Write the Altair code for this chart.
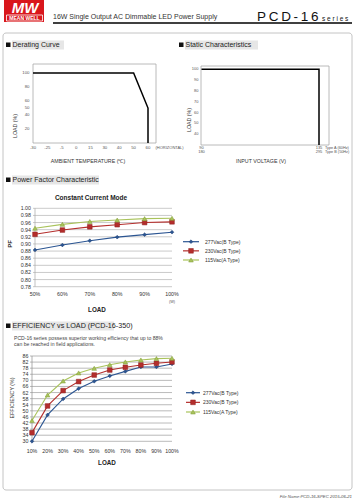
import altair as alt
import pandas as pd

FONT = "Liberation Sans"

# ---------------- data ----------------
derating_ticks = ["-30", "-25", "-5", "0", "15", "30", "40", "50", "60"]
derating_temp = ["-30", "50", "60", "60"]
derating_load = [100, 100, 50, 0]
derating_yticks = [100, 80, 60, 50, 40, 20]

static_volt_a = [90, 135]
static_volt_b = [180, 295]
static_curve_v = [90, 135, 135]
static_curve_load = [100, 100, 30]
static_yticks = [100, 90, 80, 70, 60, 50, 40]

series_names = ["277Vac(B Type)", "230Vac(B Type)", "115Vac(A Type)"]
series_colors = ["#2B5592", "#B42E2C", "#A9C35B"]
series_stroke = ["#1E3F73", "#8E1E1E", "#7F9A36"]
series_shapes = ["diamond", "square", "triangle-up"]
series_sizes = [14, 22, 22]

pf_load = [50, 60, 70, 80, 90, 100]
pf_277 = [0.883, 0.897, 0.909, 0.919, 0.926, 0.933]
pf_230 = [0.927, 0.939, 0.948, 0.954, 0.960, 0.962]
pf_115 = [0.944, 0.955, 0.963, 0.967, 0.971, 0.972]
pf_yticks = [1.00, 0.98, 0.96, 0.94, 0.92, 0.90, 0.88, 0.86, 0.84, 0.82, 0.80, 0.78]

eff_load = [10, 20, 30, 40, 50, 60, 70, 80, 90, 100]
eff_277 = [30.0, 47.3, 57.8, 64.6, 69.4, 72.9, 75.9, 78.8, 78.8, 80.8]
eff_230 = [35.7, 53.2, 63.3, 69.2, 73.5, 76.8, 78.6, 80.1, 81.2, 82.1]
eff_115 = [43.6, 60.4, 69.6, 74.9, 77.9, 80.3, 82.1, 83.4, 84.3, 84.5]
eff_yticks = [86, 82, 78, 74, 70, 66, 62, 58, 54, 50, 46, 42, 38, 34, 30]

one = pd.DataFrame({"k": [0]})
L = []


def text(s, x, y, size=6, color="#333333", align="left", baseline="middle",
         weight="normal", style="normal", angle=0):
    kw = dict(text=s, x=x, y=y, fontSize=size, color=color, align=align,
              baseline=baseline, fontWeight=weight, fontStyle=style, font=FONT)
    if angle:
        kw["angle"] = angle
    return alt.Chart(one).mark_text(**kw)


def rect(x, y, x2, y2, fill="transparent", stroke="transparent", sw=1.0, radius=0):
    kw = dict(fill=fill, stroke=stroke, strokeWidth=sw)
    if radius:
        kw["cornerRadius"] = radius
    return alt.Chart(one).mark_rect(**kw).encode(
        x=alt.value(x), x2=alt.value(x2), y=alt.value(y), y2=alt.value(y2))


def hrule(x, x2, y, color="black", sw=1.0):
    return alt.Chart(one).mark_rule(color=color, strokeWidth=sw).encode(
        x=alt.value(x), x2=alt.value(x2), y=alt.value(y))


def section(title, sx, ty, bgw, size=7):
    return [
        rect(sx + 6, ty - 4.5, sx + 6 + bgw, ty + 4.5, fill="#e6e6e6"),
        rect(sx, ty - 2.5, sx + 4.5, ty + 2, fill="#111111"),
        text(title, sx + 6.5, ty, size=size, color="#222222"),
    ]


# ---------------- header ----------------
L.append(rect(4, 0, 44, 22, fill="#D9161C"))
L.append(text("MW", 25, 12.6, size=15, color="white", align="center",
              baseline="alphabetic", weight="bold", style="italic"))
L.append(rect(6.5, 15, 42.5, 21, stroke="white", sw=0.8))
L.append(text("MEAN WELL", 24.5, 18.3, size=5.0, color="white", align="center", weight="bold"))
L.append(text("16W Single Output AC Dimmable LED Power Supply", 53, 19, size=7,
              color="#333333", baseline="alphabetic"))
L.append(text("P\u2009C\u2009D\u2009-\u20091\u20096", 257, 21.3, size=13.5, color="#111111",
              baseline="alphabetic"))
L.append(text("s e r i e s", 322, 21.3, size=6.5, color="#111111", baseline="alphabetic"))
L.append(hrule(53, 352, 23, sw=1.6))

# outer box and footer
L.append(rect(3, 33, 352, 490, stroke="#c4c4c4", sw=1.0, radius=3))
L.append(text("File Name:PCD-16-SPEC   2015-06-21", 352, 497, size=4.3, color="#555555",
              align="right", style="italic"))

# ---------------- derating curve ----------------
L += section("Derating Curve", 6, 45, 52)
der_x = alt.Scale(type="point", domain=derating_ticks, range=[33, 148], padding=0)
der_y = alt.Scale(domain=[0, 113], range=[143, 64], nice=False, zero=False)
L.append(rect(33, 64, 156, 143, stroke="#a8a8a8", sw=0.8))
der_df = pd.DataFrame({"t": derating_temp, "load": derating_load, "i": list(range(len(derating_temp)))})
L.append(alt.Chart(der_df).mark_line(color="black", strokeWidth=1.5).encode(
    x=alt.X("t:N", scale=der_x, axis=None),
    y=alt.Y("load:Q", scale=der_y, axis=None),
    order=alt.Order("i:Q")))
L.append(alt.Chart(pd.DataFrame({"t": derating_ticks})).mark_text(
    y=147.5, fontSize=4.3, color="#555555", font=FONT, baseline="middle").encode(
    x=alt.X("t:N", scale=der_x, axis=None), text="t:N"))
L.append(alt.Chart(pd.DataFrame({"v": derating_yticks})).mark_text(
    x=29.5, fontSize=4.3, color="#555555", font=FONT, align="right", baseline="middle").encode(
    y=alt.Y("v:Q", scale=der_y, axis=None), text="v:Q"))
L.append(text("(HORIZONTAL)", 155.5, 147.5, size=4.0, color="#555555"))
L.append(text("AMBIENT TEMPERATURE (\u2103)", 88, 161, size=5.3, color="#333333", align="center"))
L.append(text("LOAD (%)", 15, 126, size=5.3, color="#333333", align="center", angle=270))

# ---------------- static characteristics ----------------
L += section("Static Characteristics", 179, 45, 73)
st_xa = alt.Scale(domain=[90, 135], range=[201.5, 319], nice=False, zero=False)
st_xb = alt.Scale(domain=[180, 295], range=[201.5, 319], nice=False, zero=False)
st_y = alt.Scale(domain=[30, 100], range=[145, 69.3], nice=False, zero=False)
L.append(rect(201, 66, 329, 145, stroke="#a8a8a8", sw=0.8))
st_df = pd.DataFrame({"v": static_curve_v, "load": static_curve_load, "i": list(range(len(static_curve_v)))})
L.append(alt.Chart(st_df).mark_line(color="black", strokeWidth=1.5).encode(
    x=alt.X("v:Q", scale=st_xa, axis=None),
    y=alt.Y("load:Q", scale=st_y, axis=None),
    order=alt.Order("i:Q")))
L.append(alt.Chart(pd.DataFrame({"v": static_volt_a})).mark_text(
    y=147.7, fontSize=4.0, color="#555555", font=FONT, baseline="middle").encode(
    x=alt.X("v:Q", scale=st_xa, axis=None), text="v:Q"))
L.append(alt.Chart(pd.DataFrame({"v": static_volt_b})).mark_text(
    y=151.6, fontSize=4.0, color="#555555", font=FONT, baseline="middle").encode(
    x=alt.X("v:Q", scale=st_xb, axis=None), text="v:Q"))
L.append(alt.Chart(pd.DataFrame({"v": static_yticks})).mark_text(
    x=198.5, fontSize=4.0, color="#555555", font=FONT, align="right", baseline="middle").encode(
    y=alt.Y("v:Q", scale=st_y, axis=None), text="v:Q"))
L.append(text("Type A (60Hz)", 325, 147.7, size=3.8, color="#555555"))
L.append(text("Type B (50Hz)", 325, 151.6, size=3.8, color="#555555"))
L.append(text("INPUT VOLTAGE (V)", 261, 161, size=5.3, color="#333333", align="center"))
L.append(text("LOAD (%)", 189, 120, size=5.3, color="#333333", align="center", angle=270))


# ---------------- shared helpers for the line charts ----------------
def line_chart(loads, values_list, xs, ys, x_left, x_right, y_ticks, tick_fmt,
               label_x, xlabel_y, grid_color, legend_rows, leg_x0, leg_x1, leg_tx):
    out = []
    grid = pd.DataFrame({"v": y_ticks})
    out.append(alt.Chart(grid).mark_rule(color=grid_color, strokeWidth=0.6).encode(
        y=alt.Y("v:Q", scale=ys, axis=None), x=alt.value(x_left), x2=alt.value(x_right)))
    out.append(alt.Chart(grid).mark_rule(color=grid_color, strokeWidth=0.6).encode(
        y=alt.Y("v:Q", scale=ys, axis=None), x=alt.value(x_left - 2), x2=alt.value(x_left)))
    out.append(alt.Chart(pd.DataFrame({"v": [y_ticks[0], y_ticks[-1]]})).mark_line(
        color=grid_color, strokeWidth=0.7).encode(
        y=alt.Y("v:Q", scale=ys, axis=None), x=alt.value(x_left)))
    out.append(alt.Chart(grid).mark_text(
        x=label_x, fontSize=5.3, color="#333333", font=FONT, align="right", baseline="middle").encode(
        y=alt.Y("v:Q", scale=ys, axis=None), text=alt.Text("v:Q", format=tick_fmt)))
    xl = pd.DataFrame({"x": loads, "lab": [f"{v}%" for v in loads]})
    out.append(alt.Chart(xl).mark_text(
        y=xlabel_y, fontSize=5.3, color="#333333", font=FONT, baseline="middle").encode(
        x=alt.X("x:Q", scale=xs, axis=None), text="lab:N"))
    for k, vals in enumerate(values_list):
        df = pd.DataFrame({"x": loads, "v": vals})
        out.append(alt.Chart(df).mark_line(color=series_colors[k], strokeWidth=1.1).encode(
            x=alt.X("x:Q", scale=xs, axis=None), y=alt.Y("v:Q", scale=ys, axis=None)))
    for k, vals in enumerate(values_list):
        df = pd.DataFrame({"x": loads, "v": vals})
        out.append(alt.Chart(df).mark_point(
            shape=series_shapes[k], size=series_sizes[k], filled=True, opacity=1,
            fill=series_colors[k], stroke=series_stroke[k], strokeWidth=0.5).encode(
            x=alt.X("x:Q", scale=xs, axis=None), y=alt.Y("v:Q", scale=ys, axis=None)))
    # legend
    leg_y = alt.Scale(type="point", domain=series_names, range=legend_rows, padding=0)
    for k, name in enumerate(series_names):
        ld = pd.DataFrame({"s": [name]})
        out.append(alt.Chart(ld).mark_rule(color=series_colors[k], strokeWidth=1.2).encode(
            y=alt.Y("s:N", scale=leg_y, axis=None), x=alt.value(leg_x0), x2=alt.value(leg_x1)))
        out.append(alt.Chart(ld).mark_point(
            shape=series_shapes[k], size=series_sizes[k], filled=True, opacity=1,
            fill=series_colors[k], stroke=series_stroke[k], strokeWidth=0.5).encode(
            y=alt.Y("s:N", scale=leg_y, axis=None), x=alt.value((leg_x0 + leg_x1) / 2)))
        out.append(alt.Chart(ld).mark_text(
            x=leg_tx, fontSize=5.0, color="#333333", font=FONT, align="left", baseline="middle").encode(
            y=alt.Y("s:N", scale=leg_y, axis=None), text="s:N"))
    return out


# ---------------- power factor ----------------
L += section("Power Factor Characteristic", 6, 180, 87)
L.append(text("Constant Current Mode", 91, 198, size=6.5, color="#222222", align="center", weight="bold"))
pf_x = alt.Scale(domain=[50, 100], range=[35, 172], nice=False, zero=False)
pf_y = alt.Scale(domain=[0.78, 1.00], range=[286.7, 208.3], nice=False, zero=False)
L += line_chart(pf_load, [pf_277, pf_230, pf_115], pf_x, pf_y, 35, 172, pf_yticks, ".2f",
                31, 294, "#a6a6a6", [241.7, 260], 183, 199, 205)
L.append(text("(W)", 172, 301.5, size=3.8, color="#555555", align="center"))
L.append(text("LOAD", 97, 309.5, size=6.3, color="#222222", align="center", weight="bold"))
L.append(text("PF", 10, 244, size=6.0, color="#222222", align="center", weight="bold", angle=270))

# ---------------- efficiency ----------------
L += section("EFFICIENCY vs LOAD (PCD-16-350)", 6, 326, 102, size=7.2)
L.append(text("PCD-16 series possess superior working efficiency that up to 88%", 14, 338.3,
              size=5.1, color="#444444"))
L.append(text("can be reached in field applications.", 14, 343.6, size=5.1, color="#444444"))
eff_x = alt.Scale(domain=[10, 100], range=[32, 172], nice=False, zero=False)
eff_y = alt.Scale(domain=[30, 86], range=[441.3, 356], nice=False, zero=False)
L += line_chart(eff_load, [eff_277, eff_230, eff_115], eff_x, eff_y, 32, 172, eff_yticks, "d",
                28.5, 450.5, "#8c8c8c", [392.7, 412], 186, 200, 203)
L.append(text("LOAD", 107, 463, size=6.3, color="#222222", align="center", weight="bold"))
L.append(text("EFFICIENCY (%)", 12, 398, size=5.3, color="#333333", align="center", angle=270))

chart = alt.layer(*L).resolve_scale(
    x="independent", y="independent"
).properties(
    width=356, height=500, autosize=alt.AutoSizeParams(type="none"), padding=0,
    background="white"
).configure_view(stroke=None)

chart.save("out.html", embed_options={"renderer": "svg", "actions": False})
